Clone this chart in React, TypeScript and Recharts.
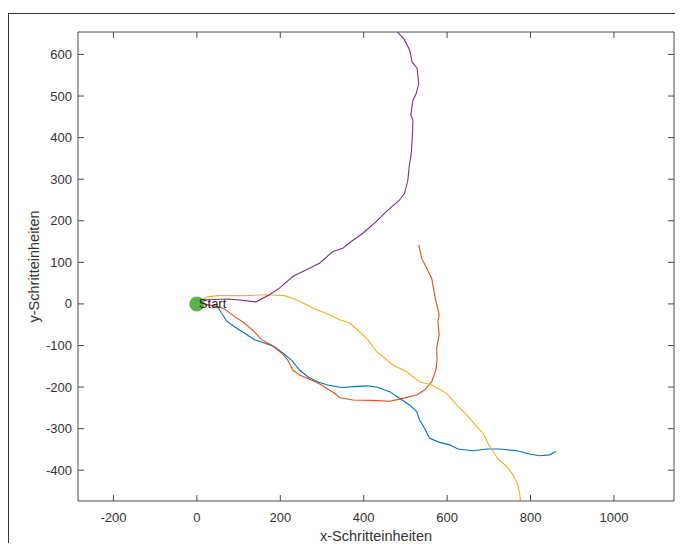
import { ComposedChart, Line, XAxis, YAxis, ReferenceDot } from "recharts";

// Trajektorien, Punkte als [x, y] in Schritteinheiten
const pathBlue = [
  [0, 0], [25, -2], [50, -7], [59, -22], [71, -41], [90, -55], [114, -70], [138, -86],
  [162, -94], [186, -103], [206, -118], [227, -135], [246, -159], [266, -175], [290, -188],
  [314, -195], [347, -201], [378, -199], [407, -197], [431, -200], [462, -211], [486, -227],
  [510, -243], [527, -259], [534, -279], [546, -299], [558, -323], [582, -333], [606, -339],
  [626, -349], [662, -353], [695, -349], [726, -349], [767, -353], [798, -361], [822, -365],
  [846, -363], [861, -355],
];
const pathOrange = [
  [0, 0], [25, -2], [50, -6], [66, -12], [90, -30], [114, -46], [138, -67], [155, -86],
  [179, -99], [203, -118], [218, -135], [230, -159], [246, -171], [275, -183], [299, -195],
  [330, -215], [342, -225], [374, -231], [422, -232], [462, -234], [486, -229], [527, -219],
  [546, -207], [563, -187], [573, -159], [576, -135], [575, -106], [581, -74], [578, -43],
  [581, -26], [578, -14], [570, 22], [563, 62], [551, 86], [539, 110], [532, 142],
];
const pathYellow = [
  [0, 0], [12, 10], [26, 17], [50, 20], [114, 20], [170, 22], [210, 20], [239, 10],
  [278, -10], [318, -26], [342, -38], [366, -46], [390, -67], [410, -86], [431, -115],
  [470, -147], [503, -163], [534, -187], [563, -195], [599, -215], [623, -243], [647, -267],
  [671, -295], [686, -311], [698, -335], [710, -355], [722, -373], [743, -391], [758, -411],
  [768, -431], [774, -455], [776, -475], [777, -495],
];
const pathPurple = [
  [0, 0], [23, 10], [78, 12], [142, 5], [174, 22], [198, 38], [230, 66], [254, 78],
  [294, 98], [326, 126], [350, 134], [370, 150], [398, 170], [430, 198], [454, 222],
  [486, 250], [498, 266], [506, 298], [509, 330], [514, 362], [517, 410], [518, 442],
  [513, 454], [518, 490], [526, 506], [532, 530], [528, 567], [516, 582], [510, 611],
  [498, 635], [480, 655], [470, 675],
];

const startPoint = { x: 0, y: 0, label: "Start" };

const xTicks = [-200, 0, 200, 400, 600, 800, 1000];
const yTicks = [-400, -300, -200, -100, 0, 100, 200, 300, 400, 500, 600];
const xDomain = [-285, 1144];
const yDomain = [-474, 654];

const xTitle = "x-Schritteinheiten";
const yTitle = "y-Schritteinheiten";

const series = [
  { name: "blue", points: pathBlue, color: "#0072BD" },
  { name: "orange", points: pathOrange, color: "#D95319" },
  { name: "yellow", points: pathYellow, color: "#EDB120" },
  { name: "purple", points: pathPurple, color: "#7E2F8E" },
];

const FONT = '"Liberation Sans", Arial, Helvetica, sans-serif';
const AXIS = "#4a4a4a";
const TEXT = "#333333";
const TICK_LEN = 6;

const toRows = (pts: number[][]) => pts.map(([x, y]) => ({ x, y }));

// MATLAB-artige Ticks: Striche nach innen, Beschriftung aussen
const BottomTick = ({ x, y, payload }: any) => (
  <g>
    <line x1={x} y1={y} x2={x} y2={y - TICK_LEN} stroke={AXIS} />
    <text x={x} y={y + 16} textAnchor="middle" dominantBaseline="central" fontSize={13} fill={TEXT} fontFamily={FONT}>
      {payload.value}
    </text>
  </g>
);
const TopTick = ({ x, y }: any) => <line x1={x} y1={y} x2={x} y2={y + TICK_LEN} stroke={AXIS} />;
const LeftTick = ({ x, y, payload }: any) => (
  <g>
    <line x1={x} y1={y} x2={x + TICK_LEN} y2={y} stroke={AXIS} />
    <text x={x - 6} y={y} textAnchor="end" dominantBaseline="central" fontSize={13} fill={TEXT} fontFamily={FONT}>
      {payload.value}
    </text>
  </g>
);
const RightTick = ({ x, y }: any) => <line x1={x} y1={y} x2={x - TICK_LEN} y2={y} stroke={AXIS} />;

const XTitle = ({ viewBox }: any) => (
  <text
    x={viewBox.x + viewBox.width / 2}
    y={viewBox.y + 35}
    textAnchor="middle"
    dominantBaseline="central"
    fontSize={14.5}
    fill={TEXT}
    fontFamily={FONT}
  >
    {xTitle}
  </text>
);
const YTitle = ({ viewBox }: any) => {
  const cx = viewBox.x + 26;
  const cy = viewBox.y + viewBox.height / 2;
  return (
    <text
      x={cx}
      y={cy}
      transform={`rotate(-90 ${cx} ${cy})`}
      textAnchor="middle"
      dominantBaseline="central"
      fontSize={14.5}
      fill={TEXT}
      fontFamily={FONT}
    >
      {yTitle}
    </text>
  );
};

const StartMarker = ({ cx, cy }: any) => (
  <g>
    <circle cx={cx} cy={cy} r={7.5} fill="#5ab34a" />
    <text x={cx + 2} y={cy} dominantBaseline="central" fontSize={13} fill="#222" fontFamily={FONT}>
      {startPoint.label}
    </text>
  </g>
);

export default function App() {
  return (
    <div style={{ position: "relative", width: 675, height: 535, overflow: "hidden" }}>
      <div
        style={{
          position: "absolute",
          left: 0,
          top: 5,
          width: 800,
          height: 800,
          borderLeft: "1px solid #333",
          borderTop: "1px solid #333",
        }}
      />
      <ComposedChart width={675} height={535} margin={{ top: 0, right: 0, bottom: 0, left: 0 }}>
        <XAxis
          xAxisId="bottom"
          type="number"
          dataKey="x"
          domain={xDomain}
          ticks={xTicks}
          allowDataOverflow
          interval={0}
          height={42}
          tickSize={0}
          tickMargin={0}
          tickLine={false}
          axisLine={{ stroke: AXIS }}
          tick={<BottomTick />}
          label={<XTitle />}
        />
        <XAxis
          xAxisId="top"
          orientation="top"
          type="number"
          dataKey="x"
          domain={xDomain}
          ticks={xTicks}
          allowDataOverflow
          interval={0}
          height={24}
          tickSize={0}
          tickMargin={0}
          tickLine={false}
          axisLine={{ stroke: AXIS }}
          tick={<TopTick />}
        />
        <YAxis
          yAxisId="left"
          type="number"
          domain={yDomain}
          ticks={yTicks}
          allowDataOverflow
          interval={0}
          width={70}
          tickSize={0}
          tickMargin={0}
          tickLine={false}
          axisLine={{ stroke: AXIS }}
          tick={<LeftTick />}
          label={<YTitle />}
        />
        <YAxis
          yAxisId="right"
          orientation="right"
          type="number"
          domain={yDomain}
          ticks={yTicks}
          allowDataOverflow
          interval={0}
          width={9}
          tickSize={0}
          tickMargin={0}
          tickLine={false}
          axisLine={{ stroke: AXIS }}
          tick={<RightTick />}
        />
        {series.map((s) => (
          <Line
            key={s.name}
            xAxisId="bottom"
            yAxisId="left"
            data={toRows(s.points)}
            dataKey="y"
            type="linear"
            stroke={s.color}
            strokeWidth={1.1}
            dot={false}
            activeDot={false}
            isAnimationActive={false}
          />
        ))}
        <ReferenceDot
          xAxisId="bottom"
          yAxisId="left"
          x={startPoint.x}
          y={startPoint.y}
          r={7.5}
          shape={<StartMarker />}
        />
      </ComposedChart>
    </div>
  );
}
